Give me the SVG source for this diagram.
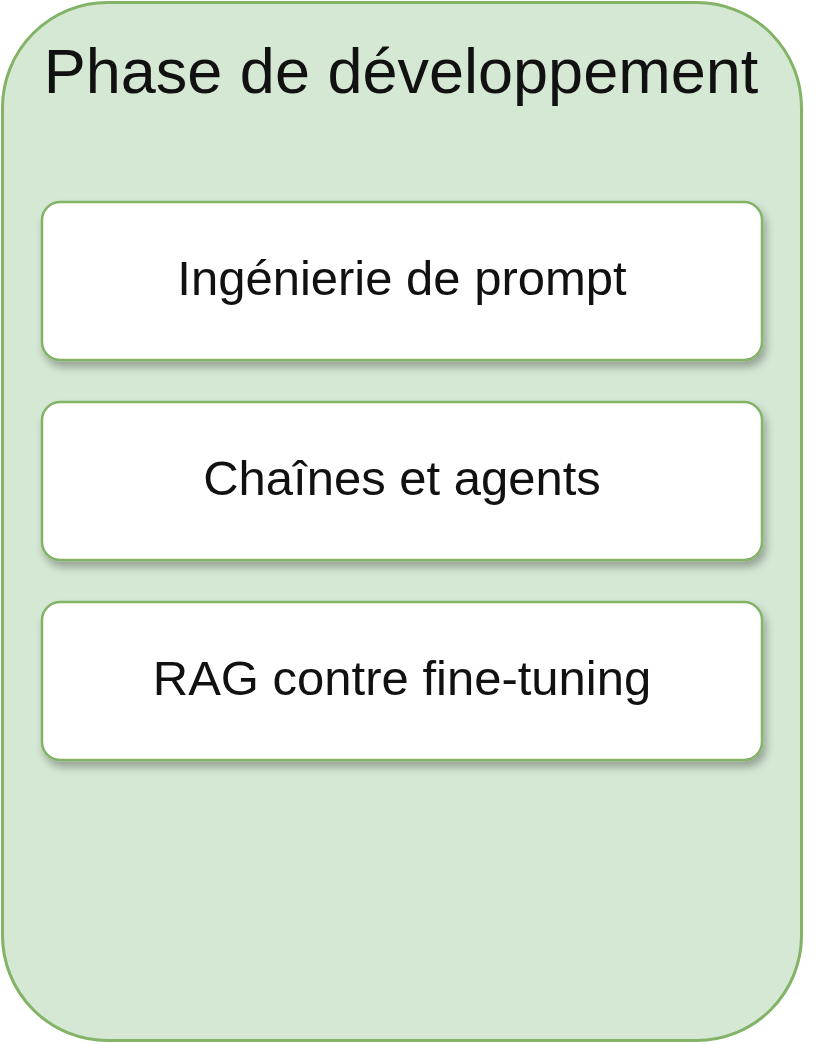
<svg xmlns="http://www.w3.org/2000/svg" width="836" height="1044" viewBox="0 0 836 1044">
<style>
.item{fill:#ffffff;stroke:#82b366;stroke-width:2.5}
.lbl{font-family:"Liberation Sans",Arial,sans-serif;font-size:49px;fill:#111;text-anchor:middle}
</style>
<defs>
<filter id="sh" x="-10%" y="-20%" width="120%" height="150%">
<feGaussianBlur in="SourceAlpha" stdDeviation="4"/>
<feOffset dx="3" dy="6" result="b"/>
<feComponentTransfer><feFuncA type="linear" slope="0.3"/></feComponentTransfer>
<feMerge><feMergeNode/><feMergeNode in="SourceGraphic"/></feMerge>
</filter>
</defs>
<rect width="836" height="1044" fill="#ffffff"/>
<g id="container">
<rect x="2.5" y="2.5" width="799" height="1038" rx="105" ry="105" fill="#d5e8d4" stroke="#82b366" stroke-width="3"/>
<text x="401" y="93" font-family="'Liberation Sans',Arial,sans-serif" font-size="63" fill="#111" text-anchor="middle">Phase de développement</text>
</g>
<g id="node-prompt">
<rect class="item" x="42" y="202" width="720" height="158" rx="18" ry="18" filter="url(#sh)"/>
<text class="lbl" x="402" y="295">Ingénierie de prompt</text>
</g>
<g id="node-chains">
<rect class="item" x="42" y="402" width="720" height="158" rx="18" ry="18" filter="url(#sh)"/>
<text class="lbl" x="402" y="495">Chaînes et agents</text>
</g>
<g id="node-rag">
<rect class="item" x="42" y="602" width="720" height="158" rx="18" ry="18" filter="url(#sh)"/>
<text class="lbl" x="402" y="695">RAG contre fine-tuning</text>
</g>
<g id="connectors"></g>
</svg>
